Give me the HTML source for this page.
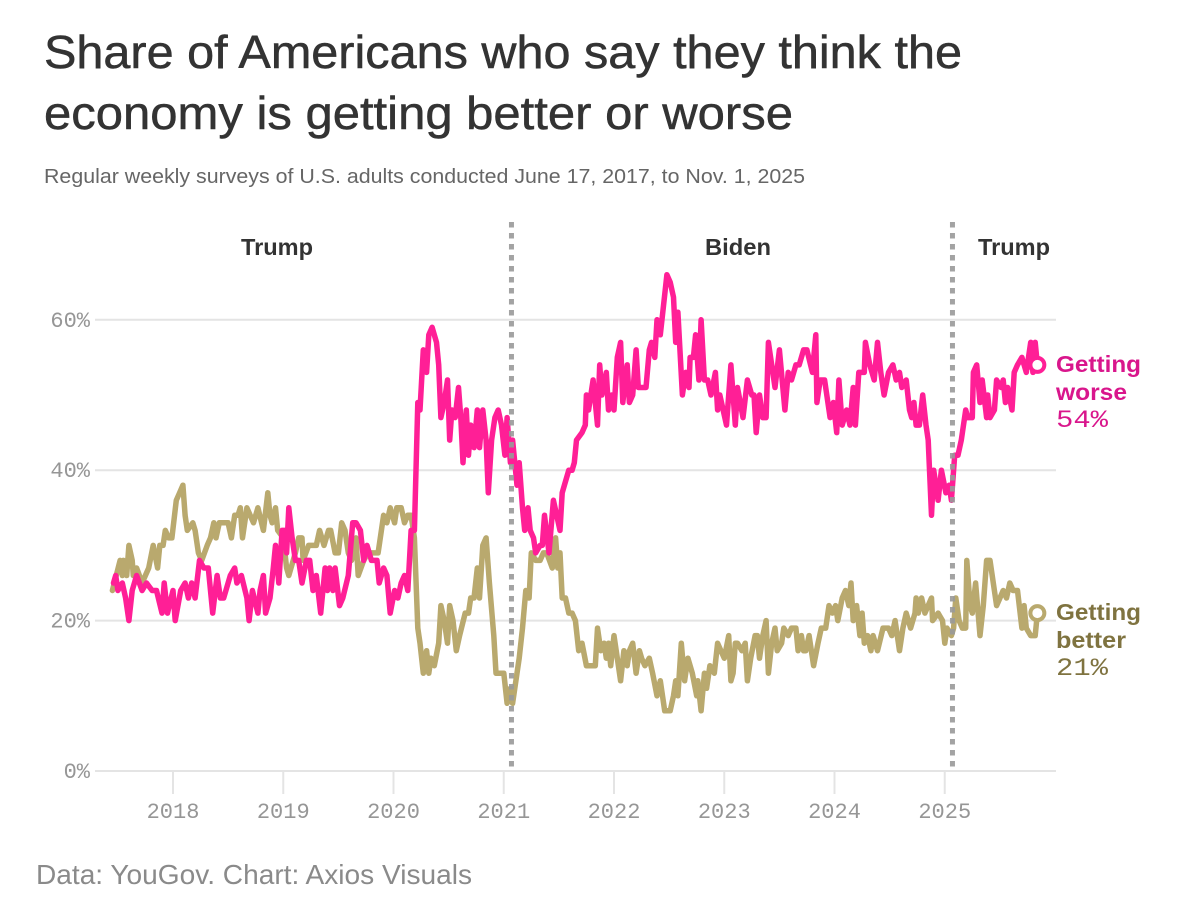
<!DOCTYPE html>
<html lang="en">
<head>
<meta charset="utf-8">
<title>Share of Americans who say they think the economy is getting better or worse</title>
<style>
html,body{margin:0;padding:0;background:#fff}
svg{display:block}
.sans{font-family:"Liberation Sans",sans-serif}
.mono{font-family:"Liberation Mono",monospace}
</style>
</head>
<body>
<svg id="chart" width="1180" height="908" viewBox="0 0 1180 908" xmlns="http://www.w3.org/2000/svg">
  <rect width="1180" height="908" fill="#fff"/>
  <text class="sans" x="44" y="68" font-size="46" fill="#333" stroke="#333" stroke-width="0.5" textLength="918" lengthAdjust="spacingAndGlyphs">Share of Americans who say they think the</text>
  <text class="sans" x="44" y="129" font-size="46" fill="#333" stroke="#333" stroke-width="0.5" textLength="749" lengthAdjust="spacingAndGlyphs">economy is getting better or worse</text>
  <text class="sans" x="44" y="183" font-size="20.5" fill="#666" textLength="761" lengthAdjust="spacingAndGlyphs">Regular weekly surveys of U.S. adults conducted June 17, 2017, to Nov. 1, 2025</text>
  <g id="grid"></g>
  <g id="xaxis"></g>
  <g id="series"></g>
  <g id="terms"></g>
  <text class="sans" x="277" y="255" font-size="23" font-weight="700" fill="#333" text-anchor="middle" textLength="72" lengthAdjust="spacingAndGlyphs">Trump</text>
  <text class="sans" x="738" y="255" font-size="23" font-weight="700" fill="#333" text-anchor="middle" textLength="66" lengthAdjust="spacingAndGlyphs">Biden</text>
  <text class="sans" x="1014" y="255" font-size="23" font-weight="700" fill="#333" text-anchor="middle" textLength="72" lengthAdjust="spacingAndGlyphs">Trump</text>
  <g>
    <text class="sans" x="1056" y="372" font-size="23" font-weight="700" fill="#d9168c" textLength="85" lengthAdjust="spacingAndGlyphs">Getting</text>
    <text class="sans" x="1056" y="400" font-size="23" font-weight="700" fill="#d9168c" textLength="71" lengthAdjust="spacingAndGlyphs">worse</text>
    <text id="worse-value" class="mono" x="1056" y="427" font-size="25" fill="#d9168c" textLength="52" lengthAdjust="spacingAndGlyphs"></text>
  </g>
  <g>
    <text class="sans" x="1056" y="620" font-size="23" font-weight="700" fill="#7f7340" textLength="85" lengthAdjust="spacingAndGlyphs">Getting</text>
    <text class="sans" x="1056" y="648" font-size="23" font-weight="700" fill="#7f7340" textLength="70" lengthAdjust="spacingAndGlyphs">better</text>
    <text id="better-value" class="mono" x="1056" y="675" font-size="25" fill="#7f7340" textLength="52" lengthAdjust="spacingAndGlyphs"></text>
  </g>
  <text class="sans" x="36" y="884" font-size="28" fill="#8a8a8a" textLength="436" lengthAdjust="spacingAndGlyphs">Data: YouGov. Chart: Axios Visuals</text>
</svg>
<script>
const yTicks = [0, 20, 40, 60];
const yearTicks = [2018, 2019, 2020, 2021, 2022, 2023, 2024, 2025];
const termDividers = [2021.07, 2025.07];

const worseDates = [
2017.46,2017.48,2017.50,2017.54,2017.57,2017.60,2017.63,2017.67,2017.72,2017.76,
2017.81,2017.85,2017.90,2017.92,2017.95,2018.00,2018.02,2018.07,2018.11,2018.14,
2018.17,2018.20,2018.24,2018.28,2018.32,2018.36,2018.40,2018.43,2018.46,2018.52,
2018.56,2018.58,2018.62,2018.67,2018.69,2018.72,2018.77,2018.79,2018.82,2018.84,
2018.88,2018.91,2018.93,2018.96,2018.99,2019.02,2019.03,2019.05,2019.08,2019.11,
2019.14,2019.17,2019.21,2019.24,2019.27,2019.30,2019.34,2019.38,2019.40,2019.42,
2019.45,2019.47,2019.51,2019.54,2019.59,2019.63,2019.66,2019.70,2019.73,2019.76,
2019.80,2019.85,2019.87,2019.91,2019.94,2019.97,2020.01,2020.04,2020.07,2020.10,
2020.13,2020.16,2020.19,2020.22,2020.24,2020.27,2020.30,2020.32,2020.35,2020.39,
2020.41,2020.43,2020.46,2020.49,2020.51,2020.53,2020.56,2020.59,2020.61,2020.63,
2020.66,2020.68,2020.70,2020.73,2020.76,2020.78,2020.81,2020.84,2020.86,2020.89,
2020.92,2020.95,2020.98,2021.01,2021.03,2021.06,2021.08,2021.10,2021.12,2021.14,
2021.17,2021.19,2021.22,2021.24,2021.27,2021.29,2021.33,2021.35,2021.37,2021.41,
2021.45,2021.48,2021.51,2021.53,2021.55,2021.59,2021.62,2021.64,2021.66,2021.71,
2021.74,2021.75,2021.77,2021.81,2021.85,2021.87,2021.89,2021.93,2021.95,2021.98,
2022.00,2022.03,2022.06,2022.08,2022.12,2022.14,2022.17,2022.20,2022.22,2022.29,
2022.32,2022.34,2022.37,2022.39,2022.42,2022.45,2022.48,2022.51,2022.54,2022.56,
2022.58,2022.62,2022.65,2022.68,2022.69,2022.72,2022.74,2022.77,2022.79,2022.82,
2022.85,2022.88,2022.92,2022.94,2022.96,2023.02,2023.06,2023.10,2023.12,2023.17,
2023.21,2023.25,2023.27,2023.29,2023.32,2023.35,2023.38,2023.40,2023.44,2023.46,
2023.50,2023.55,2023.58,2023.61,2023.65,2023.68,2023.72,2023.75,2023.80,2023.83,
2023.84,2023.87,2023.91,2023.96,2023.99,2024.02,2024.04,2024.07,2024.11,2024.14,
2024.17,2024.19,2024.22,2024.27,2024.28,2024.32,2024.36,2024.39,2024.42,2024.45,
2024.49,2024.53,2024.56,2024.59,2024.61,2024.65,2024.68,2024.70,2024.72,2024.74,
2024.77,2024.80,2024.83,2024.85,2024.88,2024.90,2024.94,2024.97,2025.01,2025.04,
2025.06,2025.09,2025.12,2025.15,2025.19,2025.21,2025.25,2025.26,2025.29,2025.32,
2025.34,2025.38,2025.39,2025.41,2025.45,2025.47,2025.51,2025.53,2025.55,2025.57,
2025.61,2025.63,2025.66,2025.70,2025.74,2025.78,2025.80,2025.82,2025.84
];
const worseValues = [
25,26,24,25,23,20,24,26,24,25,
24,24,21,25,21,24,20,24,25,23,
25,23,28,27,27,21,26,23,23,26,
27,25,26,23,20,24,21,24,26,21,
23,27,30,25,32,32,29,35,31,28,
28,25,28,28,24,26,21,27,24,27,
24,27,22,23,26,33,33,32,28,30,
28,28,25,27,26,21,24,23,25,26,
24,32,32,49,48,56,53,58,59,57,
54,47,49,52,44,48,47,51,47,41,
48,42,46,43,48,43,48,44,37,44,
47,48,46,42,47,41,44,41,38,41,
35,32,35,32,31,29,30,30,34,29,
36,34,32,37,38,40,40,41,44,45,
46,50,48,52,46,54,50,53,48,50,
48,55,57,49,54,49,50,56,51,51,
56,57,55,60,58,62,66,65,63,57,
61,50,53,51,55,55,58,52,60,52,
52,50,53,48,50,46,54,46,51,47,
52,50,50,45,50,47,47,57,53,51,
56,48,53,52,54,54,56,56,53,58,
49,52,52,47,49,45,52,46,48,46,
51,46,53,53,57,54,52,57,53,50,
53,54,52,53,51,52,48,47,49,46,
46,50,46,44,34,40,36,40,37,38,
36,42,42,44,48,47,47,53,54,49,
52,47,50,47,48,52,51,52,49,51,
48,53,54,55,53,57,53,57,54
];

const betterDates = [
2017.45,2017.52,2017.54,2017.55,2017.58,2017.60,2017.63,2017.64,2017.67,2017.72,
2017.75,2017.78,2017.82,2017.86,2017.88,2017.91,2017.93,2017.96,2017.99,2018.03,
2018.06,2018.09,2018.11,2018.13,2018.18,2018.20,2018.23,2018.26,2018.31,2018.34,
2018.37,2018.39,2018.42,2018.47,2018.50,2018.53,2018.56,2018.59,2018.61,2018.63,
2018.67,2018.70,2018.73,2018.77,2018.82,2018.86,2018.88,2018.90,2018.93,2018.95,
2019.00,2019.03,2019.05,2019.11,2019.14,2019.17,2019.18,2019.23,2019.27,2019.30,
2019.33,2019.37,2019.41,2019.43,2019.47,2019.50,2019.53,2019.56,2019.59,2019.62,
2019.66,2019.68,2019.73,2019.77,2019.82,2019.86,2019.91,2019.94,2019.97,2020.01,
2020.03,2020.07,2020.10,2020.13,2020.16,2020.19,2020.22,2020.24,2020.27,2020.30,
2020.32,2020.34,2020.37,2020.41,2020.43,2020.46,2020.49,2020.51,2020.54,2020.57,
2020.60,2020.65,2020.68,2020.70,2020.73,2020.76,2020.78,2020.81,2020.84,2020.87,
2020.91,2020.93,2021.00,2021.03,2021.06,2021.08,2021.12,2021.14,2021.17,2021.20,
2021.23,2021.25,2021.29,2021.33,2021.36,2021.39,2021.44,2021.47,2021.49,2021.51,
2021.53,2021.56,2021.59,2021.62,2021.65,2021.68,2021.71,2021.75,2021.83,2021.85,
2021.88,2021.91,2021.93,2021.95,2021.97,2022.00,2022.03,2022.06,2022.09,2022.12,
2022.14,2022.17,2022.20,2022.23,2022.25,2022.28,2022.32,2022.35,2022.39,2022.42,
2022.46,2022.51,2022.54,2022.56,2022.58,2022.61,2022.64,2022.67,2022.71,2022.75,
2022.76,2022.79,2022.82,2022.84,2022.87,2022.91,2022.94,2022.97,2023.00,2023.04,
2023.06,2023.08,2023.10,2023.12,2023.16,2023.19,2023.21,2023.24,2023.28,2023.30,
2023.32,2023.35,2023.38,2023.40,2023.43,2023.46,2023.48,2023.52,2023.54,2023.58,
2023.61,2023.65,2023.67,2023.70,2023.72,2023.74,2023.77,2023.81,2023.85,2023.88,
2023.92,2023.95,2023.98,2024.01,2024.03,2024.07,2024.10,2024.13,2024.15,2024.17,
2024.20,2024.23,2024.25,2024.27,2024.30,2024.33,2024.35,2024.39,2024.44,2024.49,
2024.52,2024.55,2024.59,2024.62,2024.65,2024.69,2024.73,2024.74,2024.76,2024.79,
2024.82,2024.88,2024.89,2024.94,2024.98,2025.00,2025.02,2025.06,2025.08,2025.10,
2025.13,2025.16,2025.19,2025.20,2025.23,2025.25,2025.28,2025.32,2025.35,2025.38,
2025.41,2025.47,2025.53,2025.56,2025.59,2025.62,2025.66,2025.70,2025.72,2025.74,
2025.78,2025.82,2025.84
];
const betterValues = [
24,28,26,28,26,30,28,26,27,25,
26,27,30,27,30,30,32,31,31,36,
37,38,34,32,33,32,29,28,30,31,
33,31,33,33,33,31,34,34,35,31,
35,34,33,35,32,37,34,33,35,32,
31,27,26,29,31,31,28,30,30,30,
32,30,32,32,29,29,33,32,29,28,
31,26,28,29,29,29,34,33,35,33,
35,35,33,34,34,31,19,17,13,16,
13,15,14,17,22,20,17,22,20,16,
18,21,21,23,23,27,23,30,31,25,
18,13,13,9,11,9,13,15,19,24,
23,29,28,28,29,29,27,31,27,29,
23,23,21,21,20,16,17,14,14,19,
16,17,15,17,14,18,15,12,16,14,
16,17,13,16,15,14,15,13,10,12,
8,8,10,12,10,17,12,15,13,10,
12,8,13,11,14,13,17,16,15,18,
12,13,17,17,16,17,12,15,18,18,
15,18,20,13,17,19,16,17,19,18,
19,19,16,18,16,16,18,14,17,19,
19,22,21,22,20,23,24,22,25,20,
22,18,21,17,18,16,18,16,19,19,
18,20,16,19,21,19,21,23,21,23,
21,23,20,21,20,17,19,18,19,23,
20,19,19,28,22,21,25,18,22,28,
28,22,24,23,25,24,24,19,22,19,
18,18,21
];

const SVG_NS = 'http://www.w3.org/2000/svg';
function xScale(year) { return 173 + (year - 2018) * 110.25; }
function yScale(value) { return 771 - value * 7.52; }
function make(parent, tag) {
  const el = document.createElementNS(SVG_NS, tag);
  parent.appendChild(el);
  return el;
}

const grid = document.getElementById('grid');
yTicks.forEach(function (tick) {
  const line = make(grid, 'line');
  
  
  line.setAttribute('x1', 95);
  line.setAttribute('x2', 1056);
  line.setAttribute('y1', yScale(tick));
  line.setAttribute('y2', yScale(tick));
  line.setAttribute('stroke', '#e4e4e4');
  line.setAttribute('stroke-width', 2);
  const label = make(grid, 'text');
  
  
  label.setAttribute('class', 'mono');
  label.setAttribute('x', 90);
  label.setAttribute('y', yScale(tick) + 7);
  label.setAttribute('text-anchor', 'end');
  label.setAttribute('font-size', 22);
  label.setAttribute('fill', '#969696');
  label.textContent = tick + '%';
});

const xaxis = document.getElementById('xaxis');
yearTicks.forEach(function (year) {
  const tick = make(xaxis, 'line');
  
  
  tick.setAttribute('x1', xScale(year));
  tick.setAttribute('x2', xScale(year));
  tick.setAttribute('y1', 771);
  tick.setAttribute('y2', 794);
  tick.setAttribute('stroke', '#e4e4e4');
  tick.setAttribute('stroke-width', 2);
  const label = make(xaxis, 'text');
  
  
  label.setAttribute('class', 'mono');
  label.setAttribute('x', xScale(year));
  label.setAttribute('y', 818);
  label.setAttribute('text-anchor', 'middle');
  label.setAttribute('font-size', 22);
  label.setAttribute('fill', '#969696');
  label.textContent = year;
});

function linePath(dates, values) {
  return dates.map(function (d, i) {
    return (i ? 'L' : 'M') + xScale(d).toFixed(1) + ' ' + yScale(values[i]).toFixed(1);
  }).join('');
}
const seriesGroup = document.getElementById('series');

const betterLine = make(seriesGroup, 'path');


betterLine.setAttribute('d', linePath(betterDates, betterValues));
betterLine.setAttribute('fill', 'none');
betterLine.setAttribute('stroke', '#b9a96e');
betterLine.setAttribute('stroke-width', 5.5);
betterLine.setAttribute('stroke-linejoin', 'round');
betterLine.setAttribute('stroke-linecap', 'round');

const worseLine = make(seriesGroup, 'path');


worseLine.setAttribute('d', linePath(worseDates, worseValues));
worseLine.setAttribute('fill', 'none');
worseLine.setAttribute('stroke', '#ff1f96');
worseLine.setAttribute('stroke-width', 5.5);
worseLine.setAttribute('stroke-linejoin', 'round');
worseLine.setAttribute('stroke-linecap', 'round');

const betterEnd = make(seriesGroup, 'circle');


betterEnd.setAttribute('cx', xScale(betterDates[betterDates.length - 1]));
betterEnd.setAttribute('cy', yScale(betterValues[betterValues.length - 1]));
betterEnd.setAttribute('r', 7);
betterEnd.setAttribute('fill', '#fff');
betterEnd.setAttribute('stroke', '#b9a96e');
betterEnd.setAttribute('stroke-width', 4);

const worseEnd = make(seriesGroup, 'circle');


worseEnd.setAttribute('cx', xScale(worseDates[worseDates.length - 1]));
worseEnd.setAttribute('cy', yScale(worseValues[worseValues.length - 1]));
worseEnd.setAttribute('r', 7);
worseEnd.setAttribute('fill', '#fff');
worseEnd.setAttribute('stroke', '#ff1f96');
worseEnd.setAttribute('stroke-width', 4);

document.getElementById('worse-value').textContent = worseValues[worseValues.length - 1] + '%';
document.getElementById('better-value').textContent = betterValues[betterValues.length - 1] + '%';

const terms = document.getElementById('terms');
termDividers.forEach(function (date, i) {
  const divider = make(terms, 'line');
  
  
  divider.setAttribute('x1', xScale(date));
  divider.setAttribute('x2', xScale(date));
  divider.setAttribute('y1', 222);
  divider.setAttribute('y2', 772);
  divider.setAttribute('stroke', '#999');
  divider.setAttribute('stroke-opacity', 0.9);
  divider.setAttribute('stroke-width', 5);
  divider.setAttribute('stroke-dasharray', '5.5 5.5');
});
</script>
</body>
</html>
